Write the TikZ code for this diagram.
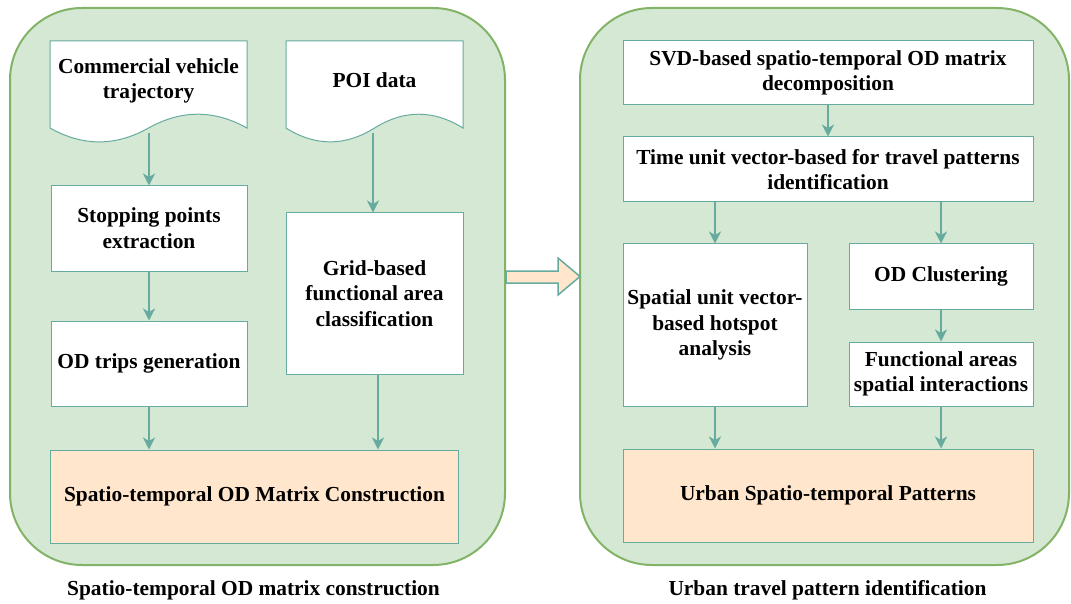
\documentclass[tikz,border=0pt]{standalone}
\usepackage{fontspec}
\setmainfont{Liberation Serif}
\usetikzlibrary{arrows.meta,calc}

\definecolor{edgeteal}{HTML}{67AB9F}
\definecolor{panelfill}{HTML}{D5E8D4}
\definecolor{panelline}{HTML}{82B366}
\definecolor{resultfill}{HTML}{FFE6CC}

\newcommand\labelfont{\bfseries\fontsize{21.4}{25.7}\selectfont}

\tikzset{
  panel/.style={draw=panelline, fill=panelfill, line width=2pt, rounded corners=72pt},
  stepbox/.style={draw=edgeteal, fill=white, line width=1pt, inner sep=0pt,
    align=center, font=\labelfont},
  resultbox/.style={stepbox, fill=resultfill},
  doctext/.style={align=center, inner sep=0pt, font=\labelfont},
  caption/.style={font=\labelfont, inner sep=0pt, anchor=base},
  flow/.style={draw=edgeteal, line width=1.6pt,
    -{Stealth[length=12pt, width=12pt, inset=3.5pt]}},
  % document symbol with a wavy lower edge (unit width, height in pt)
  docpic/.pic={
    \path[draw=edgeteal, fill=white, line width=1pt]
      (0,0) -- (1,0) -- (1,87.04)
      .. controls (0.8333,68.6) and (0.6667,68.6) .. (0.5,87.04)
      .. controls (0.3333,105.5) and (0.1667,105.5) .. (0,87.04) -- cycle;
  }
}

\begin{document}
\begin{tikzpicture}[x=1pt, y=-1pt]
  \useasboundingbox (0,0) rectangle (1071,604);

  % two stage panels
  \node[panel, minimum width=495pt, minimum height=557pt] (lp) at (257.5,286.5) {};
  \node[panel, minimum width=489pt, minimum height=557pt] (rp) at (824.5,286.5) {};

  % hand-over arrow between the stages
  \draw[edgeteal, fill=resultfill, line width=1.5pt, line join=miter]
    (506,271) -- (558,271) -- (558,258) -- (580,276.5) -- (558,295)
    -- (558,283) -- (506,283) -- cycle;

  % ---------- stage 1: OD matrix construction ----------
  \pic[xscale=197] at (50,41) {docpic};
  \pic[xscale=177] at (286,41) {docpic};
  \node[doctext] (cvt) at (148.5,81) {Commercial vehicle\\trajectory};
  \node[doctext] (poi) at (374.5,80) {POI data};
  \coordinate (cvtout) at (149,133);
  \coordinate (poiout) at (373,133);

  \node[stepbox, minimum width=196pt, minimum height=85pt] (spe) at (149,228.5)
    {Stopping points\\extraction};
  \node[stepbox, minimum width=196pt, minimum height=85pt] (odt) at (149,363.5)
    {OD trips generation};
  \node[stepbox, minimum width=177pt, minimum height=161pt] (gfa) at (374.5,293.5)
    {Grid-based\\functional area\\classification};
  \node[resultbox, minimum width=408pt, minimum height=93pt] (odm) at (254.5,496.5)
    {Spatio-temporal OD Matrix Construction};

  \draw[flow] (cvtout) -- (cvtout |- spe.north);
  \draw[flow] (poiout) -- (poiout |- gfa.north);
  \draw[flow] (spe.south) -- (odt.north);
  \draw[flow] (odt.south) -- (odt.south |- odm.north);
  \draw[flow] ([xshift=3.5pt]gfa.south) -- ([xshift=3.5pt]gfa.south |- odm.north);

  \node[caption] (cap1) at (253.5,595) {Spatio-temporal OD matrix construction};

  % ---------- stage 2: travel pattern identification ----------
  \node[stepbox, minimum width=410pt, minimum height=64pt] (svd) at (828,73)
    {SVD-based spatio-temporal OD matrix\\decomposition};
  \node[stepbox, minimum width=410pt, minimum height=65pt] (tuv) at (828,169.5)
    {Time unit vector-based for travel patterns\\identification};
  \node[stepbox, minimum width=184pt, minimum height=162pt] (suv) at (715,325)
    {Spatial unit vector-\\based hotspot\\analysis};
  \node[stepbox, minimum width=184pt, minimum height=65pt] (odc) at (941,276.5)
    {OD Clustering};
  \node[stepbox, minimum width=184pt, minimum height=64pt] (fas) at (941,374)
    {Functional areas\\spatial interactions};
  \node[resultbox, minimum width=410pt, minimum height=93pt] (usp) at (828,495.5)
    {Urban Spatio-temporal Patterns};

  \draw[flow] (svd.south) -- (tuv.north);
  \draw[flow] (suv.north |- tuv.south) -- (suv.north);
  \draw[flow] (odc.north |- tuv.south) -- (odc.north);
  \draw[flow] (odc.south) -- (fas.north);
  \draw[flow] (suv.south) -- (suv.south |- usp.north);
  \draw[flow] (fas.south) -- (fas.south |- usp.north);

  \node[caption] (cap2) at (827.5,595) {Urban travel pattern identification};
\end{tikzpicture}
\end{document}
